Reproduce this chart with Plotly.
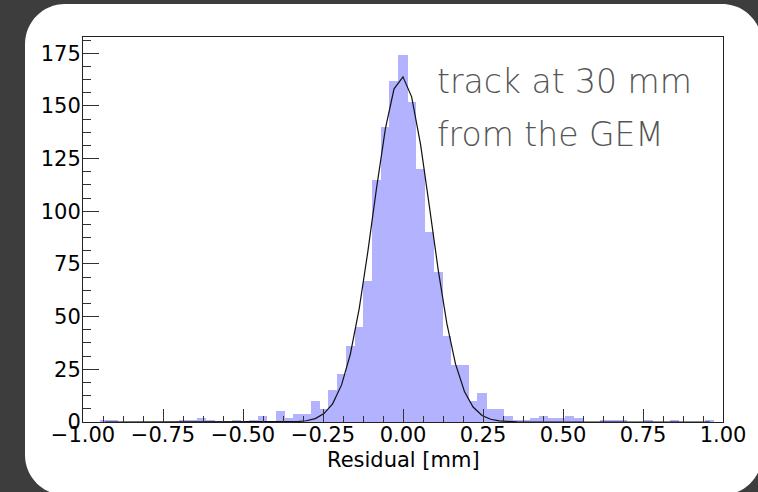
import plotly.graph_objects as go

# ---------------- data ----------------
bin_centers = [
    -0.932, -0.905, -0.877, -0.850, -0.822, -0.795, -0.768, -0.740, -0.713, -0.685,
    -0.658, -0.631, -0.603, -0.576, -0.548, -0.521, -0.494, -0.466, -0.439, -0.411,
    -0.384, -0.357, -0.329, -0.302, -0.274, -0.247, -0.220, -0.192, -0.165, -0.137,
    -0.110, -0.083, -0.055, -0.028, 0.000, 0.027, 0.055, 0.082, 0.110, 0.137,
    0.164, 0.192, 0.219, 0.247, 0.274, 0.301, 0.329, 0.356, 0.384, 0.411,
    0.438, 0.466, 0.493, 0.521, 0.548, 0.575, 0.603, 0.630, 0.658, 0.685,
    0.712, 0.740, 0.767, 0.795, 0.822, 0.849, 0.877, 0.904, 0.932, 0.959,
]
counts = [
    1, 1, 0, 0, 0, 0, 0, 0, 0, 1,
    1, 2, 1, 0, 0, 1, 0, 1, 3, 0,
    5, 2, 4, 4, 10, 6, 15, 23, 36, 45,
    67, 115, 140, 162, 174, 152, 120, 90, 71, 41,
    27, 27, 10, 14, 6, 6, 3, 1, 1, 2,
    3, 2, 2, 3, 2, 0, 0, 1, 1, 1,
    0, 0, 1, 0, 0, 1, 0, 0, 0, 1,
]
fit_values = [
    0, 0, 0, 0, 0, 0, 0, 0, 0, 0,
    0, 0, 0, 0, 0, 0, 0, 0, 0, 0,
    0, 0.06, 0.2, 0.6, 1.6, 4.0, 8.6, 17.6, 31.9, 53.7,
    80.7, 110.6, 139.2, 158.1, 163.8, 154.3, 131.6, 102.8, 72.2, 46.8,
    27.6, 14.5, 7.1, 3.1, 1.3, 0.5, 0.15, 0.05, 0, 0,
    0, 0, 0, 0, 0, 0, 0, 0, 0, 0,
    0, 0, 0, 0, 0, 0, 0, 0, 0, 0,
]
bin_width = 0.0274

x_tick_vals = [-1.0, -0.75, -0.5, -0.25, 0.0, 0.25, 0.5, 0.75, 1.0]
x_tick_text = ["\u22121.00", "\u22120.75", "\u22120.50", "\u22120.25", "0.00",
               "0.25", "0.50", "0.75", "1.00"]
y_tick_vals = [0, 25, 50, 75, 100, 125, 150, 175]
y_tick_text = ["0", "25", "50", "75", "100", "125", "150", "175"]

annotation_lines = ["track at 30 mm", "from the GEM"]
x_title = "Residual [mm]"

# ---------------- figure ----------------
W, H = 758, 492
ML, MR, MT, MB = 83, 35, 37, 70
PW, PH = W - ML - MR, H - MT - MB


def px(x):
    return (x - ML) / PW


def py(y):
    return (H - MB - y) / PH


fig = go.Figure()
fig.add_trace(go.Bar(
    x=bin_centers, y=counts, width=bin_width * 1.04,
    marker=dict(color="#b2b2ff", line=dict(width=0)),
    showlegend=False, hoverinfo="skip",
))
fig.add_trace(go.Scatter(
    x=bin_centers, y=fit_values, mode="lines",
    line=dict(color="#111111", width=1.2),
    showlegend=False, hoverinfo="skip",
))

# rounded white card behind the plot
L, T, R, B, r = 25, 4, 762, 495, 40
k = 0.5523 * r


def P(x, y):
    return f"{px(x):.5f},{py(y):.5f}"


path = (
    f"M {P(L, T + r)} C {P(L, T + r - k)} {P(L + r - k, T)} {P(L + r, T)} "
    f"L {P(R - r, T)} C {P(R - r + k, T)} {P(R, T + r - k)} {P(R, T + r)} "
    f"L {P(R, B - r)} C {P(R, B - r + k)} {P(R - r + k, B)} {P(R - r, B)} "
    f"L {P(L + r, B)} C {P(L + r - k, B)} {P(L, B - r + k)} {P(L, B - r)} Z"
)
fig.add_shape(type="path", path=path, xref="paper", yref="paper",
              fillcolor="white", line=dict(width=0), layer="below")

tick_font = dict(family="DejaVu Sans", size=21, color="black")

fig.update_layout(
    width=W, height=H,
    margin=dict(l=ML, r=MR, t=MT, b=MB, pad=0),
    paper_bgcolor="#3d3d3d",
    plot_bgcolor="rgba(0,0,0,0)",
    bargap=0,
    xaxis=dict(
        range=[-1, 1], tickmode="array", tickvals=x_tick_vals, ticktext=x_tick_text,
        ticks="inside", ticklen=13, tickwidth=1, tickcolor="#333333",
        showline=True, linecolor="#222222", linewidth=1, mirror=True,
        showgrid=False, zeroline=False, tickfont=tick_font, ticklabelstandoff=-6,
        minor=dict(dtick=0.0625, tick0=0, ticks="inside", ticklen=6,
                   tickwidth=1, tickcolor="#333333", showgrid=False),
    ),
    yaxis=dict(
        range=[0, 182.7], tickmode="array", tickvals=y_tick_vals, ticktext=y_tick_text,
        ticks="inside", ticklen=16, tickwidth=1, tickcolor="#333333",
        showline=True, linecolor="#222222", linewidth=1, mirror=True,
        showgrid=False, zeroline=False, tickfont=tick_font, ticklabelstandoff=-3,
        minor=dict(dtick=6.25, tick0=0, ticks="inside", ticklen=8,
                   tickwidth=1, tickcolor="#333333", showgrid=False),
    ),
)

text_font = dict(family="DejaVu Sans", size=33, color="#555555", weight=200)
fig.add_annotation(text=annotation_lines[0], xref="paper", yref="paper",
                   x=px(435), y=py(81), xanchor="left", yanchor="middle",
                   showarrow=False, font=text_font)
fig.add_annotation(text=annotation_lines[1], xref="paper", yref="paper",
                   x=px(435), y=py(134), xanchor="left", yanchor="middle",
                   showarrow=False, font=text_font)
fig.add_annotation(text=x_title, xref="paper", yref="paper",
                   x=px(403), y=py(459.7), xanchor="center", yanchor="middle",
                   showarrow=False, font=tick_font)

fig.write_html("out.html")
